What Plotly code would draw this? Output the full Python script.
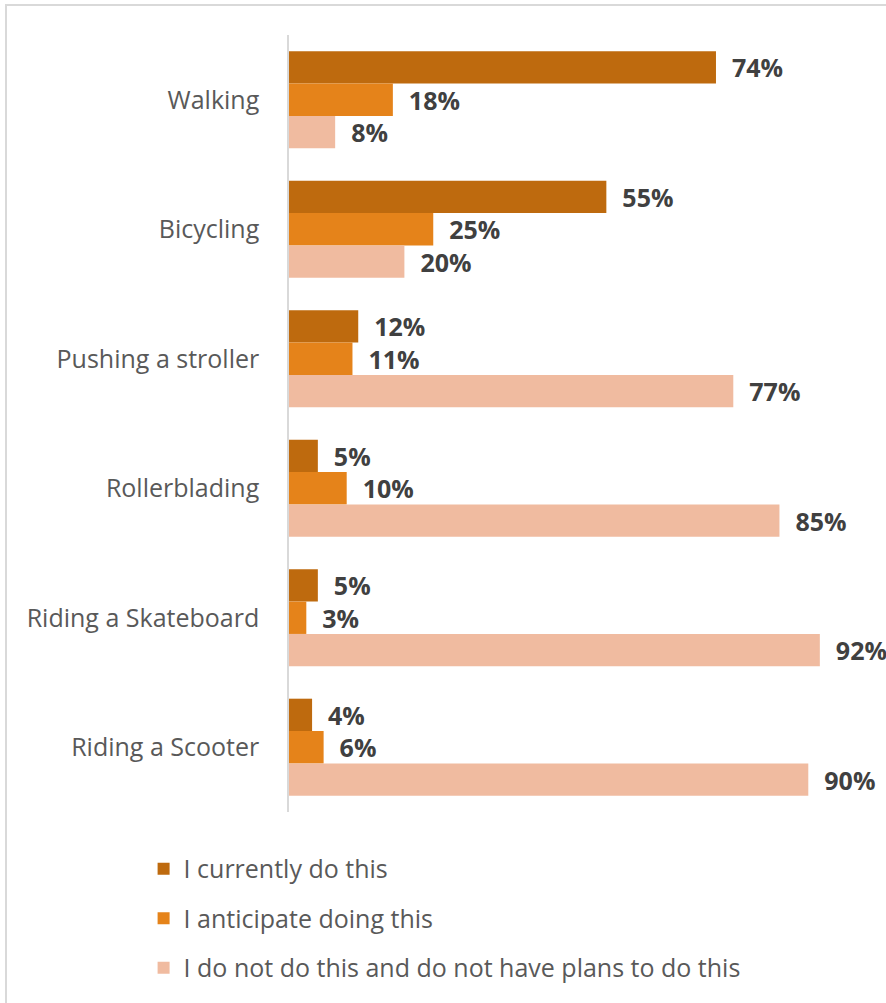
import plotly.graph_objects as go

categories = ["Walking", "Bicycling", "Pushing a stroller", "Rollerblading",
              "Riding a Skateboard", "Riding a Scooter"]
series_names = ["I currently do this", "I anticipate doing this",
                "I do not do this and do not have plans to do this"]
current = [74, 55, 12, 5, 5, 4]
anticipate = [18, 25, 11, 10, 3, 6]
no_plans = [8, 20, 77, 85, 92, 90]
colors = ["#BE6A0E", "#E5831A", "#F0BBA0"]

fig = go.Figure()
for name, vals, col in zip(series_names, [current, anticipate, no_plans], colors):
    fig.add_trace(go.Bar(
        y=categories, x=vals, name=name, orientation="h",
        marker=dict(color=col, line=dict(width=0)),
        text=[f"\u00a0\u00a0{v}%" for v in vals],
        textposition="outside", constraintext="none",
        textfont=dict(family="Open Sans", size=25, color="#404040", weight="bold"),
        cliponaxis=False,
        legendgroup=name,
    ))

fig.update_layout(
    width=886, height=1003,
    barmode="group", bargap=0.25, bargroupgap=0,
    plot_bgcolor="white", paper_bgcolor="white",
    margin=dict(l=289, r=20, t=35, b=191),
    font=dict(family="Open Sans", size=25, color="#595959"),
    xaxis=dict(range=[0, 100], visible=False),
    yaxis=dict(autorange="reversed", showline=True, linecolor="#D9D9D9",
               linewidth=1.5, ticks="", showgrid=False, ticklabelstandoff=23,
               tickfont=dict(family="Open Sans", size=25, color="#595959")),
    showlegend=True,
    legend=dict(orientation="v", x=-0.252, xanchor="left", y=-0.0436, yanchor="top",
                traceorder="grouped", tracegroupgap=14,
                font=dict(family="Open Sans", size=25, color="#595959"),
                itemwidth=30),
    shapes=[dict(type="rect", xref="paper", yref="paper", x0=-0.4905, x1=1.2,
                 y0=-0.5, y1=1.0386, line=dict(color="#D9D9D9", width=2),
                 fillcolor="rgba(0,0,0,0)", layer="below")],
)

fig.write_html("out.html", config={"displayModeBar": False},
               post_script="document.body.style.margin='0px';document.body.style.overflow='hidden';")
